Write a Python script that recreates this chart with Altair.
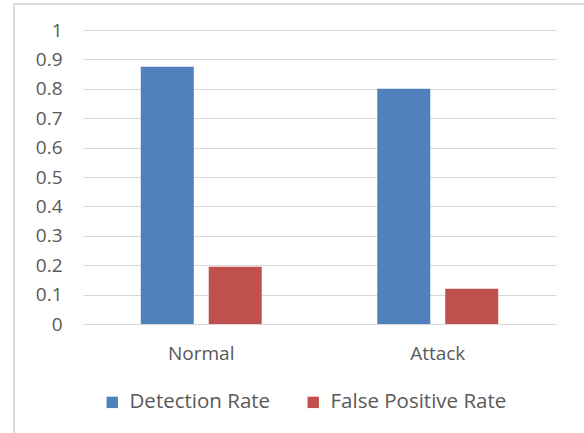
import altair as alt
import pandas as pd

categories = ["Normal", "Attack"]
series = ["Detection Rate", "False Positive Rate"]
detection_rate = [0.875, 0.80]
false_positive_rate = [0.195, 0.12]
y_ticks = [0, 0.1, 0.2, 0.3, 0.4, 0.5, 0.6, 0.7, 0.8, 0.9, 1]
colors = ["#4f81bd", "#c0504d"]

rows = []
for i, c in enumerate(categories):
    rows.append({"category": c, "series": series[0], "value": detection_rate[i]})
    rows.append({"category": c, "series": series[1], "value": false_positive_rate[i]})
df = pd.DataFrame(rows)

FONT = "Open Sans"
GRAY = "#595959"
FS = 19

bars = alt.Chart(df).mark_bar().encode(
    x=alt.X("category:N", sort=categories,
            scale=alt.Scale(paddingInner=0, paddingOuter=0),
            axis=alt.Axis(title=None, labelAngle=0, ticks=False, domain=True,
                          domainColor="#d9d9d9", labelPadding=20,
                          labelFontSize=FS, labelColor=GRAY, labelFont=FONT)),
    xOffset=alt.XOffset("series:N", sort=series,
                        scale=alt.Scale(paddingInner=0.22, paddingOuter=0.85)),
    y=alt.Y("value:Q", scale=alt.Scale(domain=[0, 1]),
            axis=alt.Axis(title=None, values=y_ticks, ticks=False, domain=False,
                          gridColor="#d9d9d9", labelPadding=21,
                          labelFontSize=FS, labelColor=GRAY, labelFont=FONT,
                          labelExpr="datum.value == 0 ? '0' : format(datum.value, '.1~f')")),
    color=alt.Color("series:N", sort=series,
                    scale=alt.Scale(domain=series, range=colors),
                    legend=alt.Legend(title=None, orient="none", direction="horizontal",
                                      legendX=19, legendY=362,
                                      symbolType="square", symbolSize=130,
                                      symbolStrokeWidth=0, labelLimit=0,
                                      labelFontSize=20.5, labelColor=GRAY, labelFont=FONT,
                                      columnPadding=32, labelOffset=7)),
)

frame_left = alt.Chart(df).mark_rule(color="#d9d9d9", strokeWidth=2).encode(
    x=alt.value(-69), y=alt.value(-26), y2=alt.value(420)
)
frame_top = alt.Chart(df).mark_rule(color="#d9d9d9", strokeWidth=2).encode(
    x=alt.value(-69), x2=alt.value(520), y=alt.value(-26)
)

chart = alt.layer(bars, frame_left, frame_top).properties(
    width=473, height=294,
    autosize=alt.AutoSizeParams(type="none"),
    padding={"left": 83, "top": 30, "right": 28, "bottom": 109},
    background="white",
).configure_view(stroke=None)

chart.save("out.html", embed_options={"renderer": "svg", "actions": False})
